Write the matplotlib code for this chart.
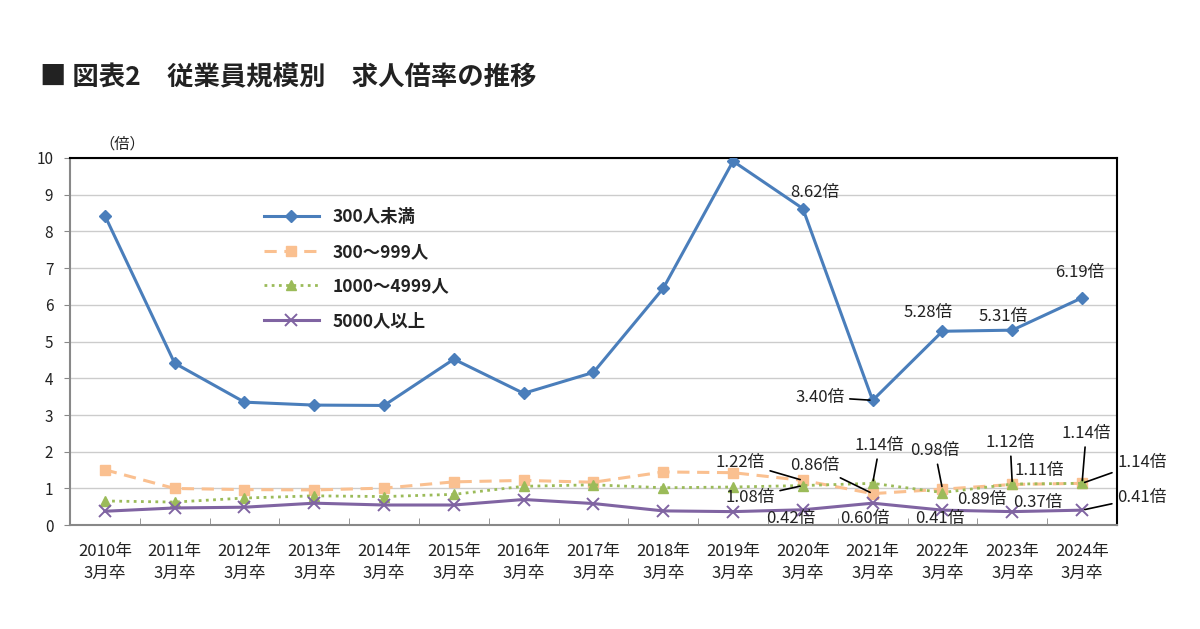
import matplotlib
matplotlib.use("Agg")
import matplotlib.pyplot as plt
import numpy as np

plt.rcParams['font.family'] = ['Noto Sans CJK JP', 'DejaVu Sans']

years = ["2010年", "2011年", "2012年", "2013年", "2014年", "2015年", "2016年", "2017年",
         "2018年", "2019年", "2020年", "2021年", "2022年", "2023年", "2024年"]
tick_labels = [y + "\n3月卒" for y in years]

under300 = [8.43, 4.41, 3.35, 3.27, 3.26, 4.52, 3.59, 4.16, 6.45, 9.91, 8.62, 3.40, 5.28, 5.31, 6.19]
s300_999 = [1.51, 1.00, 0.97, 0.96, 1.01, 1.18, 1.22, 1.17, 1.45, 1.43, 1.22, 0.86, 0.98, 1.11, 1.14]
s1000_4999 = [0.66, 0.63, 0.74, 0.80, 0.78, 0.84, 1.06, 1.10, 1.02, 1.04, 1.08, 1.14, 0.89, 1.12, 1.14]
over5000 = [0.38, 0.47, 0.49, 0.60, 0.55, 0.55, 0.70, 0.59, 0.39, 0.37, 0.42, 0.60, 0.41, 0.37, 0.41]

series_names = ["300人未満", "300～999人", "1000～4999人", "5000人以上"]

# (text, text x, text y, point x or None, point y)
labels = [
    ("8.62倍", 10.17, 9.05, None, None),
    ("3.40倍", 10.24, 3.49, 11, 3.40),
    ("5.28倍", 11.79, 5.78, None, None),
    ("5.31倍", 12.87, 5.69, None, None),
    ("6.19倍", 13.97, 6.89, None, None),
    ("1.22倍", 9.10, 1.72, 10, 1.22),
    ("1.08倍", 9.24, 0.76, 10, 1.08),
    ("0.42倍", 9.82, 0.19, None, None),
    ("0.86倍", 10.17, 1.63, 11, 0.86),
    ("1.14倍", 11.10, 2.18, 11, 1.14),
    ("0.60倍", 10.89, 0.19, None, None),
    ("0.98倍", 11.89, 2.04, 12, 0.98),
    ("0.41倍", 11.96, 0.19, None, None),
    ("0.89倍", 12.57, 0.71, None, None),
    ("1.12倍", 12.97, 2.26, 13, 1.12),
    ("1.11倍", 13.38, 1.50, None, None),
    ("0.37倍", 13.37, 0.63, None, None),
    ("1.14倍", 14.06, 2.51, 14, 1.14),
    ("1.14倍", 14.86, 1.72, 14, 1.14),
    ("0.41倍", 14.86, 0.76, 14, 0.41),
]

fig = plt.figure(figsize=(12, 6.29), dpi=100)
ax = fig.add_axes([0.0583, 0.165, 0.8725, 0.584])

x = np.arange(len(years))
ax.plot(x, under300, color="#4a7ebb", lw=2.2, marker="D", ms=6.5, label=series_names[0], zorder=5)
ax.plot(x, s300_999, color="#fac090", lw=2.2, ls=(0, (4, 2.5)), marker="s", ms=6.5,
        label=series_names[1], zorder=4)
ax.plot(x, s1000_4999, color="#9bbb59", lw=2.0, ls=(0, (1, 1.6)), marker="^", ms=6.5,
        label=series_names[2], zorder=4)
ax.plot(x, over5000, color="#8064a2", lw=2.2, marker="x", ms=8, mew=1.4,
        label=series_names[3], zorder=4)

ax.set_xlim(-0.5, len(years) - 0.5)
ax.set_ylim(0, 10)
ax.set_yticks(range(0, 11))
ax.set_xticks(x)
ax.set_xticklabels(tick_labels, fontsize=12, color="#222222", linespacing=1.35)
ax.set_xticks(np.arange(0.5, len(years) - 1, 1), minor=True)
ax.tick_params(axis="x", which="major", length=0, pad=13)
ax.tick_params(axis="x", which="minor", direction="in", length=5, color="#888888")
ax.tick_params(axis="y", length=4, color="#888888", labelsize=11, labelcolor="#222222", pad=8)

ax.grid(axis="y", color="#cccccc", lw=1)
ax.set_axisbelow(True)
ax.spines["left"].set_color("#888888")
ax.spines["bottom"].set_color("#888888")
ax.spines["left"].set_linewidth(1.5)
ax.spines["bottom"].set_linewidth(1.5)
ax.spines["top"].set_color("black")
ax.spines["right"].set_color("black")
ax.spines["top"].set_linewidth(1.5)
ax.spines["right"].set_linewidth(1.5)

ax.text(-0.08, 10.15, "（倍）", fontsize=11, color="#222222", ha="left", va="bottom")

for txt, tx, ty, px, py in labels:
    if px is None:
        ax.text(tx, ty, txt, fontsize=12, color="#222222", ha="center", va="center", zorder=6)
    else:
        ax.annotate(txt, xy=(px, py), xytext=(tx, ty), fontsize=12, color="#222222",
                    ha="center", va="center", annotation_clip=False, zorder=6,
                    arrowprops=dict(arrowstyle="-", color="black", lw=1.2, shrinkA=2, shrinkB=2))

leg = ax.legend(loc="upper left", bbox_to_anchor=(0.17, 0.905), frameon=False,
                handlelength=3.2, labelspacing=0.95, fontsize=12.5)
for t in leg.get_texts():
    t.set_fontweight("bold")
    t.set_color("#222222")

fig.text(0.033, 0.876, "■ 図表2　従業員規模別　求人倍率の推移", fontsize=19, fontweight="bold",
         color="#222222", ha="left", va="center")

fig.savefig("out.png", dpi=100, facecolor="white")
